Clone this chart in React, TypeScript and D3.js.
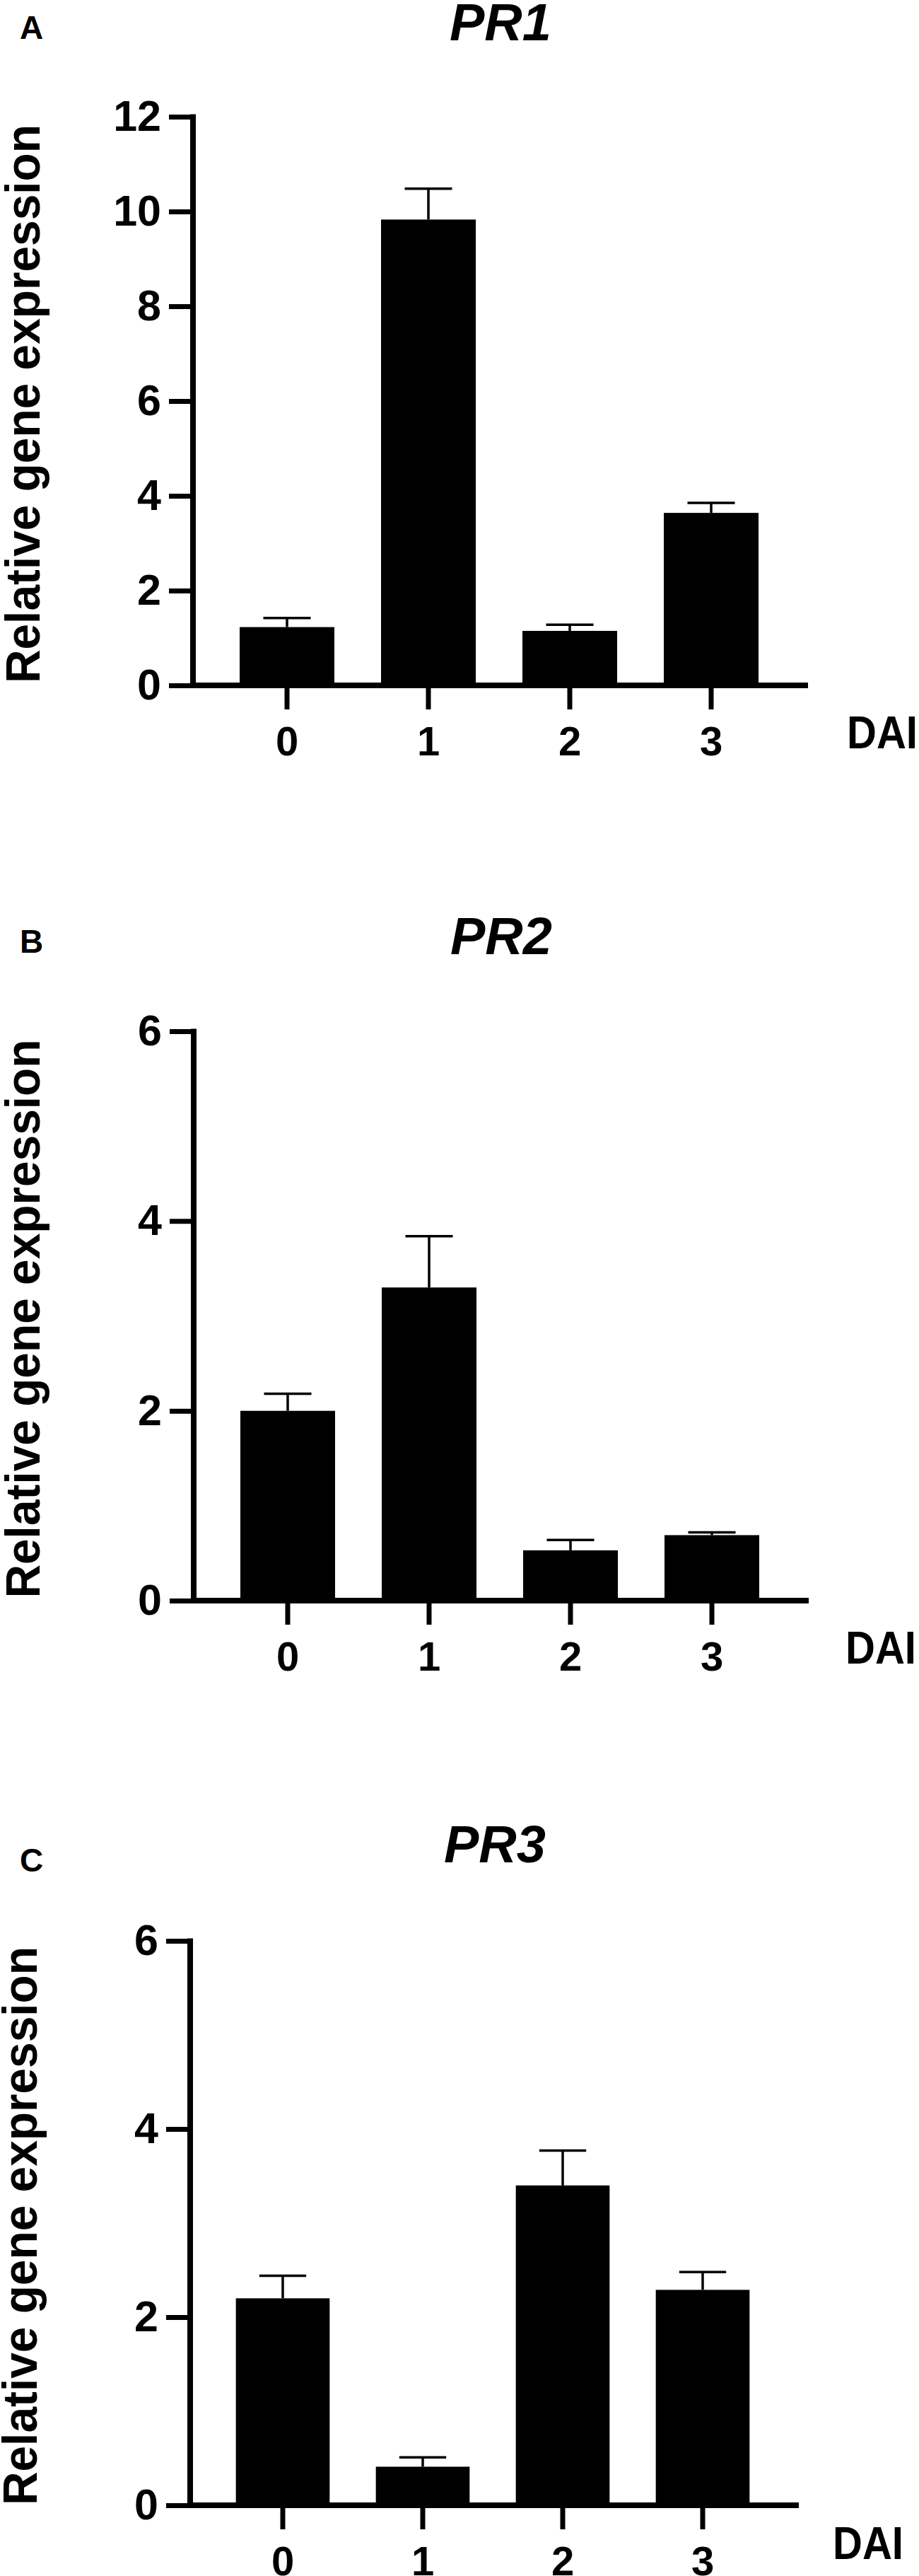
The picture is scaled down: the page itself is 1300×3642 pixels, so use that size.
import React, { useRef, useEffect } from 'react'
import { select, scaleLinear, scaleBand, axisLeft, axisBottom } from 'd3'

const FONT = '"Liberation Sans", Arial, Helvetica, sans-serif'

// days after inoculation
const days = ['0', '1', '2', '3']

// mean relative expression and SEM (upper error)
const pr1Means = [1.23, 9.83, 1.15, 3.64]
const pr1Errors = [0.19, 0.65, 0.13, 0.21]
const pr1Ticks = [0, 2, 4, 6, 8, 10, 12]

const pr2Means = [2.0, 3.3, 0.53, 0.69]
const pr2Errors = [0.18, 0.54, 0.11, 0.03]
const pr2Ticks = [0, 2, 4, 6]

const pr3Means = [2.2, 0.41, 3.4, 2.29]
const pr3Errors = [0.24, 0.1, 0.37, 0.19]
const pr3Ticks = [0, 2, 4, 6]

// layout of each panel on the page
const panels = [
	{
		letter: 'A', gene: 'PR1', means: pr1Means, errors: pr1Errors, ticks: pr1Ticks,
		top: 165, zero: 969, left: 273, right: 1143, bandStart: 306, bandEnd: 1106,
		letterY: 55, titleY: 57, titleX: 708, ylabelX: 56, daiX: 1298, daiY: 1058,
	},
	{
		letter: 'B', gene: 'PR2', means: pr2Means, errors: pr2Errors, ticks: pr2Ticks,
		top: 1458, zero: 2263, left: 274, right: 1144, bandStart: 307, bandEnd: 1107,
		letterY: 1347, titleY: 1349, titleX: 709, ylabelX: 56, daiX: 1296, daiY: 2352,
	},
	{
		letter: 'C', gene: 'PR3', means: pr3Means, errors: pr3Errors, ticks: pr3Ticks,
		top: 2744, zero: 3542, left: 269, right: 1130, bandStart: 301, bandEnd: 1093,
		letterY: 2646, titleY: 2633, titleX: 700, ylabelX: 52, daiX: 1278, daiY: 3618,
	},
]

function Panel({ p }) {
	const ref = useRef(null)

	useEffect(() => {
		const g = select(ref.current)
		g.selectAll('*').remove()

		const yMax = p.ticks[p.ticks.length - 1]
		const y = scaleLinear().domain([0, yMax]).range([p.zero, p.top])
		const x = scaleBand()
			.domain(days)
			.range([p.bandStart, p.bandEnd])
			.paddingInner(0.33)
			.paddingOuter(0.165)
		const bw = x.bandwidth()

		// bars
		g.selectAll('.bar')
			.data(p.means)
			.join('rect')
			.attr('class', 'bar')
			.attr('x', (d, i) => x(days[i]))
			.attr('y', (d) => y(d))
			.attr('width', bw)
			.attr('height', (d) => y(0) - y(d))
			.attr('fill', '#000')

		// error bars (upper half only)
		const err = g.selectAll('.err').data(p.means).join('g').attr('class', 'err')
		err.append('line')
			.attr('x1', (d, i) => x(days[i]) + bw / 2)
			.attr('x2', (d, i) => x(days[i]) + bw / 2)
			.attr('y1', (d) => y(d))
			.attr('y2', (d, i) => y(d + p.errors[i]))
			.attr('stroke', '#000')
			.attr('stroke-width', 3.5)
		err.append('line')
			.attr('x1', (d, i) => x(days[i]) + bw / 4)
			.attr('x2', (d, i) => x(days[i]) + (bw * 3) / 4)
			.attr('y1', (d, i) => y(d + p.errors[i]))
			.attr('y2', (d, i) => y(d + p.errors[i]))
			.attr('stroke', '#000')
			.attr('stroke-width', 3.5)

		// y axis
		const ya = g.append('g')
			.attr('transform', `translate(${p.left},0)`)
			.call(
				axisLeft(y)
					.tickValues(p.ticks)
					.tickFormat((d) => String(d))
					.tickSize(34)
					.tickSizeOuter(0)
					.tickPadding(11)
			)
		ya.select('.domain').remove()
		ya.attr('font-family', FONT).attr('font-size', 61).attr('font-weight', 'bold')
		ya.selectAll('.tick line').attr('stroke', '#000').attr('stroke-width', 7)
		ya.selectAll('.tick text').attr('fill', '#000')
		g.append('line')
			.attr('x1', p.left).attr('x2', p.left)
			.attr('y1', p.top - 3.5).attr('y2', p.zero + 4)
			.attr('stroke', '#000').attr('stroke-width', 8)

		// x axis
		const xa = g.append('g')
			.attr('transform', `translate(0,${p.zero})`)
			.call(axisBottom(x).tickSize(34).tickSizeOuter(0).tickPadding(24))
		xa.select('.domain').remove()
		xa.attr('font-family', FONT).attr('font-size', 58).attr('font-weight', 'bold')
		xa.selectAll('.tick line').attr('stroke', '#000').attr('stroke-width', 7)
		xa.selectAll('.tick text').attr('fill', '#000')
		g.append('line')
			.attr('x1', p.left).attr('x2', p.right)
			.attr('y1', p.zero).attr('y2', p.zero)
			.attr('stroke', '#000').attr('stroke-width', 8)

		// texts
		g.append('text')
			.attr('x', 28).attr('y', p.letterY)
			.attr('font-family', FONT).attr('font-size', 46).attr('font-weight', 'bold')
			.text(p.letter)
		g.append('text')
			.attr('x', p.titleX).attr('y', p.titleY)
			.attr('text-anchor', 'middle')
			.attr('font-family', FONT).attr('font-size', 74).attr('font-weight', 'bold')
			.attr('font-style', 'italic')
			.text(p.gene)
		g.append('text')
			.attr('transform', `translate(${p.ylabelX},${(p.top + p.zero) / 2 + 4}) rotate(-90)`)
			.attr('text-anchor', 'middle')
			.attr('font-family', FONT).attr('font-size', 68).attr('font-weight', 'bold')
			.attr('textLength', 790).attr('lengthAdjust', 'spacingAndGlyphs')
			.text('Relative gene expression')
		g.append('text')
			.attr('x', p.daiX).attr('y', p.daiY)
			.attr('text-anchor', 'end')
			.attr('font-family', FONT).attr('font-size', 64).attr('font-weight', 'bold')
			.attr('textLength', 100).attr('lengthAdjust', 'spacingAndGlyphs')
			.text('DAI')
	}, [p])

	return <g ref={ref}></g>
}

export default function App() {
	return (
		<svg
			width={1300}
			height={3642}
			style={{ position: 'absolute', left: 0, top: 0, display: 'block', background: '#fff' }}
		>
			<rect width={1300} height={3642} fill="#fff" />
			{panels.map((p) => (
				<Panel key={p.letter} p={p} />
			))}
		</svg>
	)
}
